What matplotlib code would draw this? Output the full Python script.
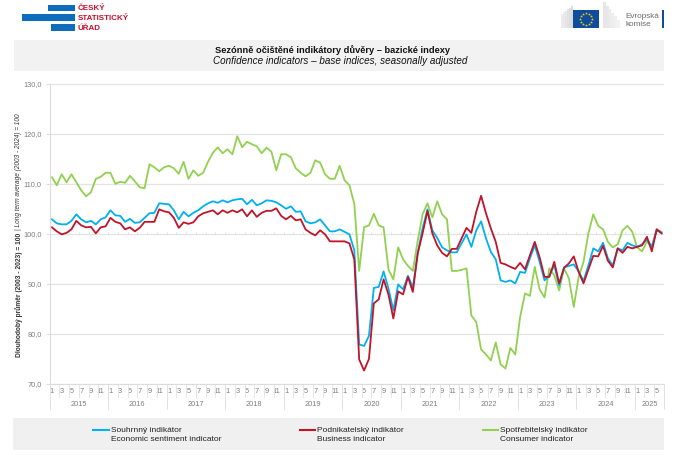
import numpy as np
import matplotlib
matplotlib.use("Agg")
import matplotlib.pyplot as plt
from matplotlib.patches import Rectangle
from matplotlib.lines import Line2D

plt.rcParams['font.family'] = ['Liberation Sans', 'DejaVu Sans']

# data 1/2015 - 6/2025
years = [2015, 2016, 2017, 2018, 2019, 2020, 2021, 2022, 2023, 2024, 2025]
months_per_year = [12, 12, 12, 12, 12, 12, 12, 12, 12, 12, 6]

souhrnny = [102.9, 102.1, 101.9, 101.9, 102.6, 103.9, 102.9, 102.3, 102.6, 101.9, 102.9, 103.3,
            104.7, 103.7, 103.6, 102.4, 103.0, 102.2, 102.3, 103.2, 104.1, 104.2, 106.1, 106.0,
            105.9, 104.7, 102.9, 104.4, 103.5, 104.2, 104.7, 105.5, 106.1, 106.5, 106.2, 106.7,
            106.3, 106.7, 106.9, 107.0, 105.9, 106.8, 105.7, 106.1, 106.7, 106.6, 106.3, 105.7,
            105.0, 105.5, 104.4, 104.5, 102.5, 102.1, 102.3, 102.9, 101.7, 100.5, 100.5, 100.9,
            100.4, 99.9, 96.7, 77.9, 77.6, 79.6, 89.2, 89.4, 92.5, 89.1, 84.7, 89.9,
            88.9, 91.6, 89.3, 96.1, 101.1, 104.9, 100.7, 99.2, 97.3, 96.7, 96.3, 96.3,
            98.1, 99.9, 97.4, 100.7, 102.5, 99.1, 96.4, 94.9, 90.7, 90.4, 90.7, 90.1,
            92.4, 92.2, 95.1, 97.7, 94.4, 90.7, 91.7, 93.7, 89.7, 93.3, 93.6, 93.9,
            92.5, 90.6, 93.7, 97.1, 96.5, 98.2, 95.1, 93.7, 97.1, 96.7, 98.2, 97.7,
            97.4, 97.9, 98.9, 97.5, 100.7, 100.2]

podnikatelsky = [101.3, 100.5, 99.9, 100.2, 100.9, 102.6, 101.7, 101.3, 101.4, 100.1, 101.3, 101.5,
                 103.2, 102.4, 102.1, 100.9, 101.3, 100.5, 101.2, 102.4, 102.4, 102.4, 104.9, 104.5,
                 104.3, 103.2, 101.2, 102.3, 102.0, 102.3, 103.5, 104.1, 104.4, 104.7, 103.9, 104.7,
                 104.2, 104.7, 104.3, 104.9, 103.5, 104.7, 103.4, 104.2, 104.6, 104.6, 105.1, 103.6,
                 102.9, 103.6, 102.7, 102.9, 100.9, 100.2, 99.7, 100.7, 99.9, 98.5, 98.5, 98.5,
                 98.5, 98.1, 94.9, 74.9, 72.7, 75.0, 86.1, 86.9, 90.9, 87.9, 83.1, 88.5,
                 87.9, 91.4, 88.4, 96.1, 100.1, 104.6, 100.1, 97.7, 96.2, 95.5, 97.0, 97.0,
                 99.1, 101.2, 100.2, 104.4, 107.6, 104.1, 101.1, 98.4, 94.2, 93.9, 93.4, 93.0,
                 94.2, 92.9, 95.7, 98.4, 95.3, 91.4, 91.4, 94.4, 90.1, 93.2, 94.1, 95.5,
                 92.4, 90.1, 92.9, 95.6, 95.5, 97.6, 94.6, 93.3, 97.1, 96.2, 97.4, 97.1,
                 97.4, 97.7, 99.4, 96.5, 100.9, 100.1]

spotrebitelsky = [111.3, 109.7, 111.9, 110.3, 111.9, 110.3, 108.7, 107.5, 108.3, 111.0, 111.4, 112.2,
                  112.2, 110.0, 110.4, 110.2, 111.6, 110.5, 109.3, 109.1, 113.9, 113.3, 112.5, 113.3,
                  113.6, 113.1, 112.0, 114.4, 111.0, 112.7, 111.6, 112.2, 114.4, 116.2, 117.3, 116.1,
                  116.9, 115.9, 119.5, 117.3, 118.4, 117.9, 117.5, 116.1, 117.2, 116.4, 112.7, 115.9,
                  115.9, 115.3, 113.1, 112.2, 111.5, 112.2, 114.7, 114.2, 111.9, 111.0, 111.0, 113.6,
                  110.7, 109.7, 106.0, 92.6, 101.3, 101.7, 104.0, 101.7, 101.3, 92.9, 90.9, 97.3,
                  94.9, 93.6, 92.6, 98.6, 103.9, 106.1, 103.3, 106.5, 103.9, 102.9, 92.6, 92.6,
                  92.8, 93.1, 83.7, 82.4, 76.9, 75.9, 74.7, 78.3, 73.9, 73.1, 77.2, 75.9,
                  83.4, 88.1, 87.6, 93.4, 88.9, 87.3, 93.1, 91.7, 88.7, 93.1, 91.1, 85.4,
                  91.4, 94.4, 100.1, 103.9, 101.6, 100.9, 98.4, 97.3, 97.9, 100.7, 101.6, 100.4,
                  97.3, 96.5, 98.5, 97.3, 100.9, 100.4]

W, H = 674, 455
fig = plt.figure(figsize=(W / 100, H / 100), dpi=100)

def fx(px):
    return px / W

def fy(px):
    return 1 - px / H

# bands
fig.add_artist(Rectangle((fx(14), fy(71)), 650 / W, 31 / H, color='#f2f2f2', lw=0))
fig.add_artist(Rectangle((fx(13), fy(449.5)), 651 / W, 31.5 / H, color='#f0f0f0', lw=0))

ax = fig.add_axes([fx(49.5), fy(384), 614.5 / W, 300.3 / H])
n = len(souhrnny)
x = np.arange(n)
ax.set_xlim(-0.5, n - 0.5)
ax.set_ylim(70, 130)
ax.spines[['top', 'right']].set_visible(False)
ax.spines[['left', 'bottom']].set_color('#dcdcdc')
ax.set_facecolor('none')

ax.yaxis.grid(True, color='#e4e4e4', lw=0.9)
ax.set_axisbelow(True)
ax.set_yticks(np.arange(70, 131, 10))
ax.set_yticklabels([f'{v},0' for v in range(70, 131, 10)], fontsize=5.3, color='#7f7f7f')
ax.tick_params(axis='y', length=3, width=0.7, color='#dcdcdc', pad=2.5)

# osa x: cisla mesicu
month_pos = []
month_lab = []
offs = np.cumsum([0] + months_per_year)
for o, ny in zip(offs, months_per_year):
    for m in range(0, ny, 2):
        month_pos.append(o + m)
        month_lab.append(str(m + 1))
ax.set_xticks(month_pos)
ax.set_xticklabels(month_lab, fontsize=5.3, color='#7f7f7f')
ax.tick_params(axis='x', length=0, pad=3.2)

# oddelovace mesicu a let
tr = ax.get_xaxis_transform()
for b in np.arange(-0.5, n, 2):
    ax.plot([b, b], [0, -12.5 / 300.3], transform=tr, color='#e6e6e6', lw=0.7, clip_on=False)
    ax.plot([b, b], [0.5, 0.5 + 1.5 / 300.3], transform=tr, color='#dddddd', lw=0.5)
for b in list(offs - 0.5):
    ax.plot([b, b], [0, -24.5 / 300.3], transform=tr, color='#e2e2e2', lw=0.7, clip_on=False)
for o, ny, yr in zip(offs, months_per_year, years):
    ax.text(o + ny / 2 - 0.5, -20 / 300.3, str(yr), transform=tr, ha='center', va='center',
            fontsize=5.3, color='#7f7f7f')

ax.plot(x, spotrebitelsky, color='#92d050', lw=1.3, solid_joinstyle='round')
ax.plot(x, souhrnny, color='#00b0f0', lw=1.3, solid_joinstyle='round')
ax.plot(x, podnikatelsky, color='#c0142a', lw=1.3, solid_joinstyle='round')

# popisek osy y
fig.text(fx(19), fy(295), 'Dlouhodobý průměr (2003 - 2023) = 100', rotation=90, fontsize=4.8,
         fontweight='bold', color='#333333', ha='center', va='center')
fig.text(fx(19), fy(172), '| Long term average (2003 - 2024) = 100', rotation=90, fontsize=4.7,
         fontstyle='italic', color='#333333', ha='center', va='center')

# nadpis
fig.text(fx(332.5), fy(50), 'Sezónně očištěné indikátory důvěry – bazické indexy', fontsize=6.7,
         fontweight='bold', color='#111111', ha='center', va='center')
fig.text(fx(340), fy(61.5), 'Confidence indicators – base indices, seasonally adjusted', fontsize=7.15,
         fontstyle='italic', color='#111111', ha='center', va='center')

# legenda
leg = [(93, 109, '#00b0f0', 'Souhrnný indikátor', 'Economic sentiment indicator'),
       (300, 315, '#c0142a', 'Podnikatelský indikátor', 'Business indicator'),
       (483, 498, '#92d050', 'Spotřebitelský indikátor', 'Consumer indicator')]
for x0, x1, c, cz, en in leg:
    fig.add_artist(Line2D([fx(x0), fx(x1)], [fy(430), fy(430)], color=c, lw=1.5))
    fig.text(fx(x1 + 2), fy(430), cz, fontsize=6.0, color='#222222', va='center')
    fig.text(fx(x1 + 2), fy(439.5), en, fontsize=6.0, color='#222222', va='center')

# logo CSU
for x0, y0, y1 in [(47.7, 4.7, 11.3), (22, 14.3, 21.3), (50.7, 24, 30.7)]:
    fig.add_artist(Rectangle((fx(x0), fy(y1)), (75 - x0) / W, (y1 - y0) / H, color='#0f6cbd', lw=0))
for yy, t in [(9, 'ČESKÝ'), (18.5, 'STATISTICKÝ'), (28.5, 'ÚŘAD')]:
    fig.text(fx(77.5), fy(yy), t, fontsize=5.8, fontweight='bold', color='#c8102e', va='center')

# logo EK
for i in range(6):
    g = 0.93 - i * 0.015
    fig.add_artist(Rectangle((fx(561 + i * 2), fy(28)), 2 / W, (14 + i * 1.6) / H, color=str(g), lw=0))
    fig.add_artist(Rectangle((fx(603 + i * 2.8), fy(28)), 2.8 / W, (26 - i * 3.6) / H, color=str(0.9 + i * 0.01), lw=0))
fig.add_artist(Rectangle((fx(573), fy(28)), 26 / W, 18 / H, color='#0f4c9e', lw=0))
ang = np.arange(12) * np.pi / 6
fig.add_artist(Line2D(fx(586 + 6 * np.cos(ang)), fy(19 + 6 * np.sin(ang)), ls='', marker='*', ms=2.2,
                      color='#f5d000', mew=0))
fig.text(fx(625), fy(16), 'Evropská', fontsize=5.9, color='#6b6b6b', va='center')
fig.text(fx(625), fy(25), 'komise', fontsize=5.9, color='#6b6b6b', va='center')
fig.add_artist(Rectangle((fx(662), fy(28)), 2 / W, 18 / H, color='#0f4c9e', lw=0))

fig.savefig('out.png', dpi=100)
